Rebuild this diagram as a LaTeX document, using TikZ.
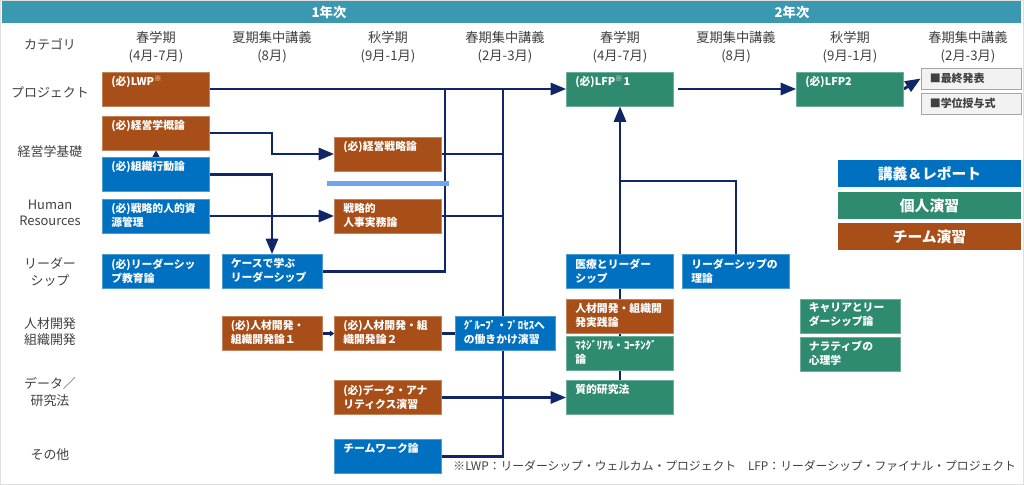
\documentclass[tikz,border=0pt]{standalone}
\usepackage{fontspec}
\setmainfont{Noto Sans CJK JP}
\usetikzlibrary{arrows.meta}

\definecolor{teamBrown}{RGB}{168,78,24}
\definecolor{lectBlue}{RGB}{0,112,192}
\definecolor{indivGreen}{RGB}{46,139,112}
\definecolor{linkNavy}{RGB}{16,38,102}
\definecolor{barTeal}{RGB}{58,152,177}
\definecolor{markBlue}{RGB}{110,165,235}
\definecolor{txtGray}{RGB}{64,64,64}

\pgfdeclarelayer{bg}
\pgfsetlayers{bg,main}

\begin{document}
\begin{tikzpicture}[
    x=0.025cm, y=-0.025cm, % 1 unit = 1 px of the sheet, y runs downwards
    >={Triangle[length=11pt,width=8.5pt]},
    % course boxes: #1 fill colour, #2 width of the text block
    box/.style 2 args={fill=#1,draw=#1!70!white,text=white,inner xsep=0.22cm,inner ysep=0.1cm,
        font=\fontsize{7.7}{10}\selectfont\bfseries,
        execute at begin node={\begin{minipage}[c][0.65cm][t]{#2}},
        execute at end node={\end{minipage}}},
    team/.style={box={teamBrown}{#1}}, team/.default=2.235cm,
    lect/.style={box={lectBlue}{#1}}, lect/.default=2.235cm,
    indiv/.style={box={indivGreen}{#1}}, indiv/.default=2.235cm,
    % small grey boxes after LFP2
    done/.style={draw=gray!70,fill=gray!10,text=txtGray,minimum width=2.5cm,minimum height=0.525cm,
        text width=2.06cm,inner xsep=0.22cm,align=left,font=\fontsize{7.8}{9}\selectfont\bfseries},
    % legend bars
    leg/.style={fill=#1,text=white,minimum width=4.575cm,minimum height=0.675cm,
        font=\fontsize{10.5}{12}\selectfont\bfseries},
    hdr/.style={text=txtGray,align=center,font=\fontsize{9.4}{12.5}\selectfont},
    cat/.style={text=txtGray,align=center,font=\fontsize{9.2}{11.5}\selectfont},
    yr/.style={text=white,font=\fontsize{9.5}{10}\selectfont\bfseries},
    link/.style={draw=linkNavy,line width=2pt}
]
\useasboundingbox (0,0) rectangle (1024,485);
\draw[gray!25] (0.5,0.5) rectangle (1023.5,484.5);

% ==============================
% COLUMN POSITIONS (px)
% ==============================
\def\xA{156}   % 1st year spring
\def\xB{272}   % 1st year summer
\def\xC{388}   % 1st year autumn
\def\xD{505}   % 1st year spring intensive
\def\xE{620}   % 2nd year spring
\def\xF{736}   % 2nd year summer
\def\xG{850}   % 2nd year autumn
\def\xH{968}   % 2nd year spring intensive

% ==============================
% YEAR BAR + HEADER ROW
% ==============================
\fill[barTeal] (2,1) rectangle (1021,23);
\node[yr] (yr1) at (329,12) {1年次};
\node[yr] (yr2) at (792,12) {2年次};

\node[cat] (cCat) at (50,44) {カテゴリ};
\foreach \x/\t/\m [count=\i] in {\xA/春学期/{(4月-7月)},\xB/夏期集中講義/{(8月)},\xC/秋学期/{(9月-1月)},\xD/春期集中講義/{(2月-3月)},
        \xE/春学期/{(4月-7月)},\xF/夏期集中講義/{(8月)},\xG/秋学期/{(9月-1月)},\xH/春期集中講義/{(2月-3月)}}
    \node[hdr] (col\i) at (\x,47) {\t\\\m};

% ==============================
% ROW LABELS
% ==============================
\node[cat] (rPrj)  at (50,92)  {プロジェクト};
\node[cat] (rMgt)  at (50,152) {経営学基礎};
\node[cat] (rHR)   at (50,213) {Human\\Resources};
\node[cat] (rLdr)  at (50,272) {リーダー\\シップ};
\node[cat] (rHRD)  at (50,332) {人材開発\\組織開発};
\node[cat] (rData) at (50,392) {データ／\\研究法};
\node[cat] (rEtc)  at (50,455) {その他};

% ==============================
% 1ST YEAR COURSES
% ==============================
\node[team] (lwp)  at (\xA,89)    {(必)LWP\textsuperscript{※}};
\node[team] (kgk)  at (\xA,133)   {(必)経営学概論};
\node[lect] (sdr)  at (\xA,174.5) {(必)組織行動論};
\node[lect] (shrm) at (\xA,216)   {(必)戦略的人的資\\源管理};
\node[lect] (lde)  at (\xA,271.5) {(必)リーダーシッ\\プ教育論};

\node[lect=2.06cm] (case) at (\xB,271.5) {ケースで学ぶ\\リーダーシップ};
\node[team=2.06cm] (hrd1) at (\xB,333.5) {(必)人材開発・\\組織開発論１};

\node[team] (ksr)  at (\xC,154)   {(必)経営戦略論};
\fill[markBlue] (327,181) rectangle (449,186);
\node[team] (jjr)  at (\xC,216)   {戦略的\\人事実務論};
\node[team] (hrd2) at (\xC,333.5) {(必)人材開発・組\\織開発論２};
\node[team] (data) at (\xC,397.5) {(必)データ・アナ\\リティクス演習};
\node[lect] (twk)  at (\xC,456.5) {チームワーク論};

\node[lect=2.06cm] (grp) at (\xD,333.5) {ｸﾞﾙｰﾌﾟ・ﾌﾟﾛｾｽへ\\の働きかけ演習};

% ==============================
% 2ND YEAR COURSES
% ==============================
\node[indiv] (lfp1) at (\xE,89)    {(必)LFP\textsuperscript{※}1};
\node[lect]  (iryo) at (\xE,271.5) {医療とリーダー\\シップ};
\node[team]  (hrdp) at (\xE,316)   {人材開発・組織開\\発実践論};
\node[indiv] (mcr)  at (\xE,353.5) {ﾏﾈｼﾞﾘｱﾙ・ｺｰﾁﾝｸﾞ\\論};
\node[indiv] (qual) at (\xE,397.5) {質的研究法};

\node[lect]  (ldt)  at (\xF,271.5) {リーダーシップの\\理論};

\node[indiv] (lfp2) at (\xG,89)    {(必)LFP2};
\node[indiv=2.06cm] (car) at (\xG,316) {キャリアとリー\\ダーシップ論};
\node[indiv=2.06cm] (nar) at (\xG,354) {ナラティブの\\心理学};

\node[done] (fin) at (971,78.5)  {■最終発表};
\node[done] (deg) at (971,103.5) {■学位授与式};

% ==============================
% LEGEND + NOTE
% ==============================
\node[leg=lectBlue]   (legL) at (929.5,173.5) {講義＆レポート};
\node[leg=indivGreen] (legI) at (929.5,205.5) {個人演習};
\node[leg=teamBrown]  (legT) at (929.5,236.5) {チーム演習};

\node[text=txtGray,anchor=east,font=\fontsize{8.4}{10}\selectfont] (note) at (1021,466)
    {※LWP：リーダーシップ・ウェルカム・プロジェクト\quad LFP：リーダーシップ・ファイナル・プロジェクト};

% ==============================
% CONNECTORS (behind the boxes)
% ==============================
\begin{pgfonlayer}{bg}
\coordinate (busA) at (445,89);
\coordinate (busB) at (503,89);
\coordinate (jLdr) at (\xE,181);

\draw[link,->] (lwp.east) -- (lfp1.west);
\draw[link,->] (kgk.east) -| (case.north |- ksr.west) -- (ksr.west);
\draw[link,->] (sdr.east) -| (case.north);
\draw[link,-{Triangle[length=5pt,width=5pt]}] (sdr.north) -- (kgk.south);
\draw[link,->] (shrm.east) -- (jjr.west);
\draw[link] (case.east) -| (busA);
\draw[link] (ksr.east) -- (ksr.east -| busB);
\draw[link] (jjr.east) -- (jjr.east -| busB);
\draw[link] (twk.east) -| (busB);
\draw[link,-{Triangle[length=3pt,width=4pt]}] (hrd1.east) -- (hrd2.west);
\draw[link] (hrd2.east) -- (grp.west);
\draw[link,->] (data.east) -- (qual.west);

\draw[link,->] (qual.north) -- (lfp1.south);
\draw[link] (ldt.north) |- (jLdr);
\draw[link,->] ([xshift=3pt]lfp1.east) -- (lfp2.west);
\draw[link,->] (lfp2.east) -- (fin.west);
\end{pgfonlayer}
\end{tikzpicture}
\end{document}
